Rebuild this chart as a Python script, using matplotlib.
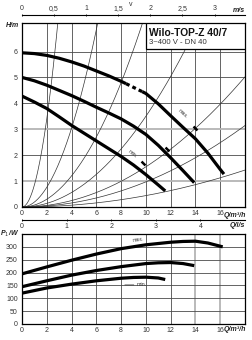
import numpy as np
import matplotlib
matplotlib.use("Agg")
import matplotlib.pyplot as plt
from matplotlib.patches import Rectangle
from matplotlib.markers import MarkerStyle
from matplotlib.transforms import Affine2D

plt.rcParams['font.family'] = ['Liberation Sans Narrow', 'Liberation Sans', 'DejaVu Sans']

# ---------------- data ----------------
# Pump curves H (m) vs Q (m3/h)
q_max = [0, 1, 2, 3, 4, 5, 6, 7, 8, 9, 10, 11, 12, 13, 14, 15, 16, 16.3]
h_max = [5.95, 5.92, 5.85, 5.74, 5.6, 5.44, 5.25, 5.06, 4.85, 4.62, 4.38, 3.98, 3.52, 3.07, 2.63, 2.08, 1.45, 1.27]
q_med = [0, 1, 2, 3, 4, 5, 6, 7, 8, 9, 10, 11, 12, 13, 13.9]
h_med = [5.0, 4.87, 4.7, 4.5, 4.3, 4.08, 3.85, 3.63, 3.4, 3.12, 2.8, 2.38, 1.9, 1.4, 0.94]
q_min = [0, 1, 2, 3, 4, 5, 6, 7, 8, 9, 10, 11, 11.56]
h_min = [4.28, 4.05, 3.8, 3.48, 3.15, 2.85, 2.55, 2.25, 1.95, 1.62, 1.25, 0.85, 0.62]
# dashed part of max curve (Q range)
max_dash_range = (8.4, 9.7)
# best-point markers (Q, H)
mark_q = [13.95, 11.67, 9.78]
mark_h = [3.04, 2.23, 1.69]
# system curve constants H = k*Q^2
system_k = [0.85, 0.19, 0.075, 0.035, 0.0155, 0.0097, 0.0044]

# Power curves P1 (W) vs Q (m3/h)
pq_max = [0, 2, 4, 6, 8, 10, 12, 13, 14, 15, 16.2]
p_max = [195, 222, 248, 272, 293, 308, 318, 321, 322, 315, 300]
pq_med = [0, 2, 4, 6, 8, 10, 11, 12, 13, 13.9]
p_med = [145, 168, 190, 208, 223, 235, 238, 239, 235, 227]
pq_min = [0, 2, 4, 6, 8, 9, 10, 11, 11.56]
p_min = [120, 140, 155, 168, 178, 181, 182, 179, 173]

h_ticks = [0, 1, 2, 3, 4, 5, 6]
p_ticks = [0, 50, 100, 150, 200, 250, 300]
q_ticks = [0, 2, 4, 6, 8, 10, 12, 14, 16]
v_ticks = [0, 0.5, 1, 1.5, 2, 2.5, 3]
v_labels = ['0', '0,5', '1', '1,5', '2', '2,5', '3']
ls_ticks = [0, 1, 2, 3, 4]
QMAX = 18
V_PER_QM3H = 1 / 5.18   # m/s per m3/h
LS_PER_QM3H = 1 / 3.6

title = 'Wilo-TOP-Z 40/7'
subtitle = '3~400 V - DN 40'

# ---------------- layout ----------------
W, H = 252, 340
fig = plt.figure(figsize=(W / 100, H / 100), dpi=100)
L = 22 / W
AW = 223 / W

def fy(px):
    return 1 - px / H

ax = fig.add_axes([L, fy(207), AW, 184 / H])
axp = fig.add_axes([L, fy(324), AW, 90 / H])

grid_c = '#4a4a4a'
light_c = '#b4b4b4'
fs = 5
txt_c = '#333333'
for a in (ax, axp):
    a.set_xlim(0, QMAX)
    a.set_xticks(q_ticks)
    a.tick_params(length=0, labelsize=fs, pad=2, labelcolor=txt_c)
    for s in a.spines.values():
        s.set_linewidth(0.9)
        s.set_color('black')

ax.set_ylim(0, 7.1)
ax.set_yticks(h_ticks)
axp.set_ylim(0, 350)
axp.set_yticks(p_ticks)
ax.tick_params(axis='y', pad=3)
axp.tick_params(axis='y', pad=3)

# grid (some lines lighter and wider, as in the scan)
for xv in q_ticks[1:]:
    ax.axvline(xv, color=grid_c, lw=0.6, zorder=0.5)
for yv in h_ticks[1:]:
    if yv in (1, 3):
        ax.axhline(yv, color=light_c, lw=1.3, zorder=0.5)
    else:
        ax.axhline(yv, color=grid_c, lw=0.6, zorder=0.5)
for xv in q_ticks[1:]:
    if xv in (14, 16):
        axp.axvline(xv, color=light_c, lw=1.3, zorder=0.5)
    else:
        axp.axvline(xv, color=grid_c, lw=0.6, zorder=0.5)
for yv in p_ticks[1:]:
    axp.axhline(yv, color=grid_c, lw=0.6, zorder=0.5)

lab_kw = dict(fontsize=fs, fontweight='bold', fontstyle='italic', color='#222')
ax.text(-0.015, 7.0, 'H/m', transform=ax.get_yaxis_transform(), ha='right', va='center', **lab_kw)
axp.text(-0.015, 350, 'P$_1$/W', transform=axp.get_yaxis_transform(), ha='right', va='center', **lab_kw)
ax.text(1.005, -0.025, 'Q/m³/h', transform=ax.transAxes, ha='right', va='top', **lab_kw)
axp.text(1.005, -0.025, 'Q/m³/h', transform=axp.transAxes, ha='right', va='top', **lab_kw)

# system curves
qq = np.linspace(0, QMAX, 300)
for k in system_k:
    ax.plot(qq, k * qq ** 2, color='#333333', lw=0.5, zorder=2)

# pump curves
lw_thick = 2.3
q_max_a = np.array(q_max); h_max_a = np.array(h_max)
d0, d1 = max_dash_range
solid1 = q_max_a <= d0
solid2 = q_max_a >= d1
ax.plot(np.append(q_max_a[solid1], d0), np.append(h_max_a[solid1], np.interp(d0, q_max, h_max)),
        color='black', lw=lw_thick, solid_capstyle='butt', zorder=3)
ax.plot([d0, d1], [np.interp(d0, q_max, h_max), np.interp(d1, q_max, h_max)],
        color='black', lw=lw_thick, ls=(0, (1.2, 1.0)), dash_capstyle='butt', zorder=3)
ax.plot(np.insert(q_max_a[solid2], 0, d1), np.insert(h_max_a[solid2], 0, np.interp(d1, q_max, h_max)),
        color='black', lw=lw_thick, solid_capstyle='butt', zorder=3)
ax.plot(q_med, h_med, color='black', lw=lw_thick, solid_capstyle='butt', zorder=3)
ax.plot(q_min, h_min, color='black', lw=lw_thick, solid_capstyle='butt', zorder=3)

# best point markers
for q, h in zip(mark_q, mark_h):
    m = MarkerStyle('s', transform=Affine2D().scale(0.45, 1.0).rotate_deg(45))
    ax.scatter([q], [h], marker=m, s=16, color='black', zorder=4, linewidths=0)

ax.text(13.0, 3.6, 'max.', fontsize=3.8, rotation=-42, ha='center', va='center', color=txt_c)
ax.text(8.95, 2.05, 'min.', fontsize=3.8, rotation=-38, ha='center', va='center', color=txt_c)

# title box
box = Rectangle((0.556, 0.859), 0.444, 0.141, transform=ax.transAxes, facecolor='white',
                edgecolor='black', lw=0.9, zorder=5)
ax.add_patch(box)
ax.text(0.57, 0.948, title, transform=ax.transAxes, fontsize=7.4, fontweight='bold',
        ha='left', va='center', zorder=6, color='#111')
ax.text(0.57, 0.893, subtitle, transform=ax.transAxes, fontsize=5.6,
        ha='left', va='center', zorder=6, color=txt_c)

# power curves
axp.plot(pq_max, p_max, color='black', lw=lw_thick, solid_capstyle='butt', zorder=3)
axp.plot(pq_med, p_med, color='black', lw=lw_thick, solid_capstyle='butt', zorder=3)
axp.plot(pq_min, p_min, color='black', lw=lw_thick, solid_capstyle='butt', zorder=3)
axp.text(9.4, 326, 'max.', fontsize=3.8, rotation=8, ha='center', va='center', color=txt_c)
axp.annotate('min.', xy=(8.3, 152), xytext=(9.25, 152), fontsize=3.8, va='center', ha='left',
             color=txt_c, arrowprops=dict(arrowstyle='-', lw=0.5, color='#333', shrinkA=0, shrinkB=0))

# velocity axis (top)
axv = fig.add_axes([L, fy(15), AW, 1e-5])
axv.set_xlim(0, QMAX * V_PER_QM3H)
axv.set_yticks([])
for s in ('left', 'right', 'bottom'):
    axv.spines[s].set_visible(False)
axv.spines['top'].set_linewidth(0.8)
axv.xaxis.tick_top()
axv.set_xticks(v_ticks)
axv.set_xticklabels(v_labels)
axv.tick_params(axis='x', length=2, width=0.6, direction='inout', labelsize=fs, pad=1, labelcolor=txt_c)
fig.text(131 / W, fy(5), 'v', fontsize=fs, ha='center', va='center', color=txt_c)
fig.text(245 / W, fy(10), 'm/s', ha='right', va='center', **lab_kw)

# l/s axis
axl = fig.add_axes([L, fy(219.5), AW, 1e-5])
axl.set_xlim(0, QMAX * LS_PER_QM3H)
axl.set_yticks([])
for s in ('left', 'right', 'top'):
    axl.spines[s].set_visible(False)
axl.spines['bottom'].set_linewidth(0.8)
axl.set_xticks(ls_ticks)
axl.tick_params(axis='x', length=2, width=0.6, direction='inout', labelsize=fs, pad=1.5, labelcolor=txt_c)
fig.text(245 / W, fy(225.5), 'Q/l/s', ha='right', va='center', **lab_kw)

fig.savefig('out.png', dpi=100)
